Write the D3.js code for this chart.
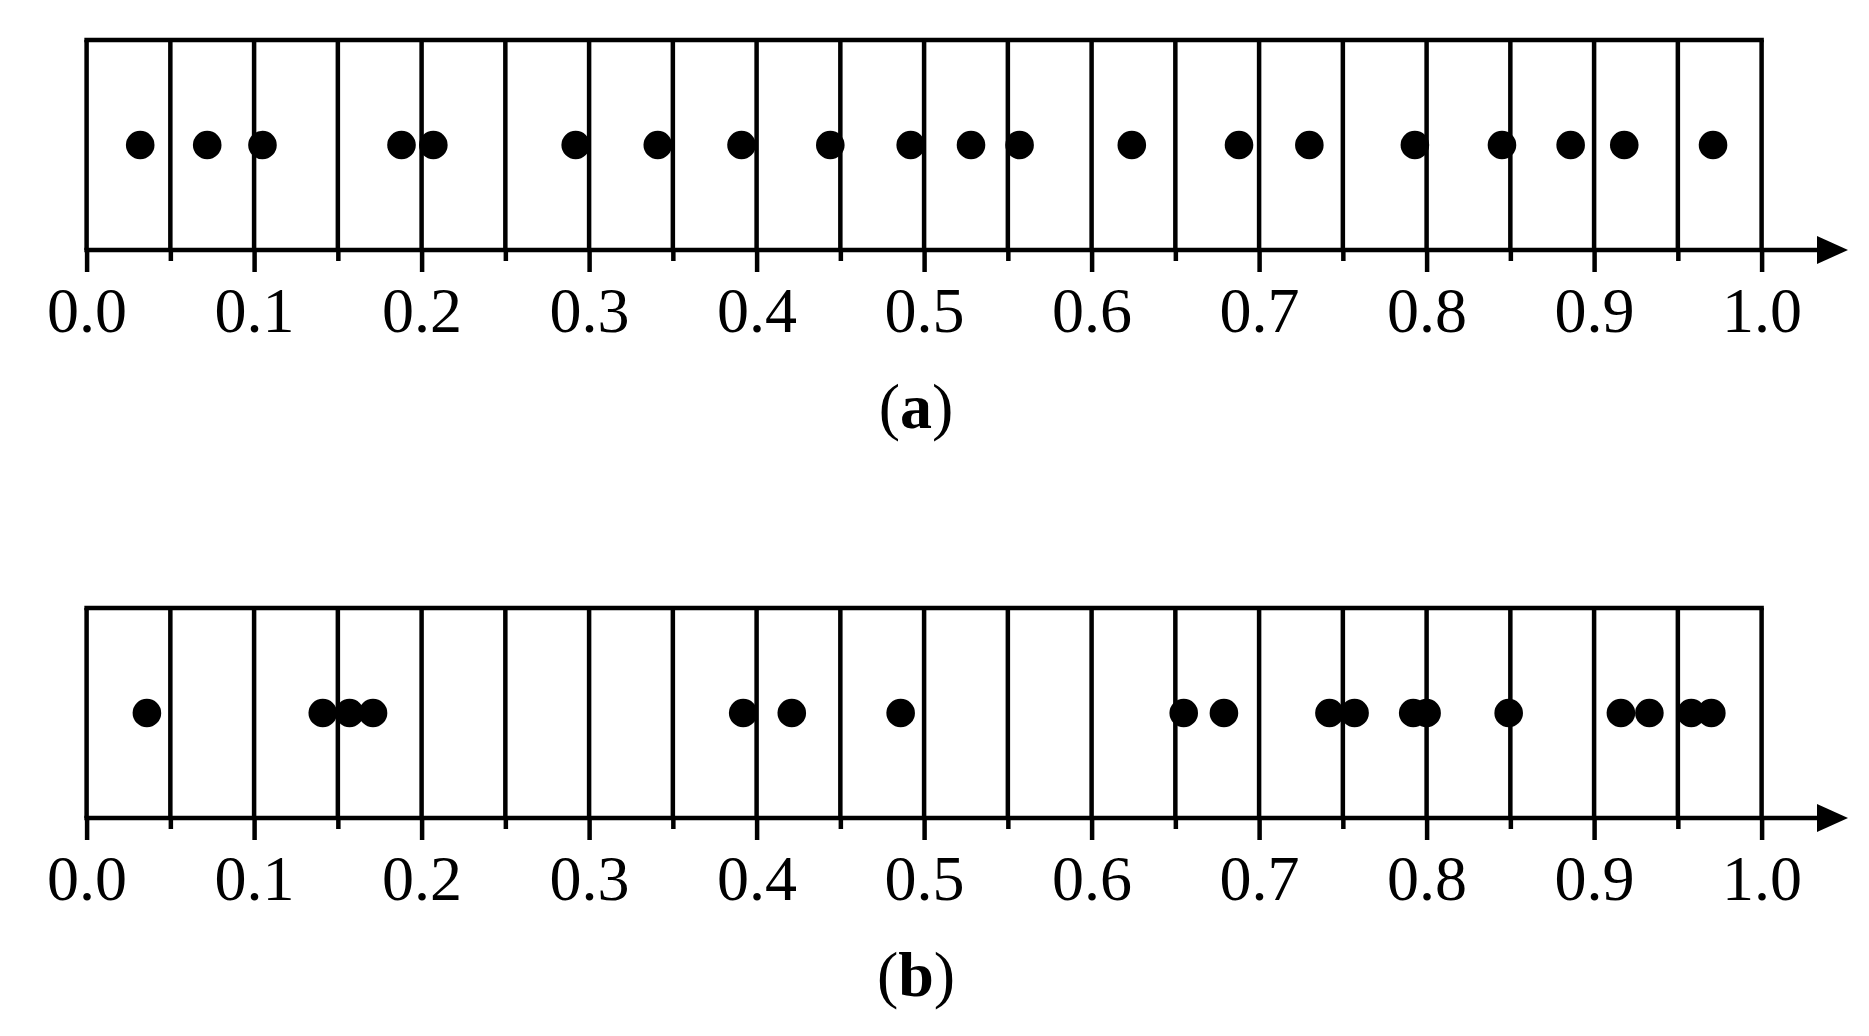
<!DOCTYPE html>
<html>
<head>
<meta charset="utf-8">
<script src="https://cdn.jsdelivr.net/npm/d3@7"></script>
<style>
  body { margin: 0; background: #fff; }
  svg { display: block; }
</style>
</head>
<body>
<svg id="chart" width="1869" height="1036"></svg>
<script>
// sample points of the two panels
var pointsA = [0.032, 0.072, 0.105, 0.188, 0.207, 0.292, 0.341, 0.391, 0.444, 0.492,
               0.528, 0.557, 0.624, 0.688, 0.730, 0.793, 0.845, 0.886, 0.918, 0.971];
var pointsB = [0.036, 0.141, 0.157, 0.171, 0.392, 0.421, 0.486, 0.655, 0.679, 0.742,
               0.757, 0.792, 0.800, 0.849, 0.916, 0.933, 0.958, 0.970];
var majorTicks = [0, 0.1, 0.2, 0.3, 0.4, 0.5, 0.6, 0.7, 0.8, 0.9, 1.0];
var minorTicks = [0.05, 0.15, 0.25, 0.35, 0.45, 0.55, 0.65, 0.75, 0.85, 0.95];
var panelLabels = ["a", "b"];

var svg = d3.select("#chart");
var sw = 4.5;

var x = d3.scaleLinear().domain([0, 1]).range([86.6, 1761.6]);
var gridLines = majorTicks.concat(minorTicks);

// panel geometry: top of frame, axis line
var panels = [
  {pts: pointsA, top: 40, axis: 250, label: panelLabels[0]},
  {pts: pointsB, top: 608, axis: 818, label: panelLabels[1]}
];

panels.forEach(function(p){
  var g = svg.append("g").attr("transform", "translate(0," + p.top + ")");
  var h = p.axis - p.top;

  // top border
  g.append("line")
    .attr("x1", x(0) - sw/2).attr("x2", x(1) + sw/2)
    .attr("y1", 0).attr("y2", 0)
    .attr("stroke", "#000").attr("stroke-width", sw);

  // vertical cell lines
  g.selectAll(".cell")
    .data(gridLines)
    .enter()
    .append("line")
      .attr("class", "cell")
      .attr("x1", function(d){ return x(d); })
      .attr("x2", function(d){ return x(d); })
      .attr("y1", 0).attr("y2", h)
      .attr("stroke", "#000").attr("stroke-width", sw);

  // axis line with arrow
  var ga = g.append("g").attr("transform", "translate(0," + h + ")");
  ga.append("line")
    .attr("x1", x(0) - sw/2).attr("x2", 1822)
    .attr("y1", 0).attr("y2", 0)
    .attr("stroke", "#000").attr("stroke-width", sw);
  ga.append("path")
    .attr("d", "M1817,-14 L1848,0 L1817,14 Z")
    .attr("fill", "#000");

  // minor ticks
  var minorAxis = d3.axisBottom(x).tickValues(minorTicks).tickSize(11).tickFormat("");
  ga.append("g").call(minorAxis)
    .call(function(s){ s.select(".domain").remove(); })
    .selectAll("line").attr("stroke-width", sw);

  // major ticks + labels
  var majorAxis = d3.axisBottom(x).tickValues(majorTicks).tickSize(22).tickFormat(d3.format(".1f"));
  var gm = ga.append("g").call(majorAxis);
  gm.select(".domain").remove();
  gm.selectAll("line").attr("stroke-width", sw);
  gm.selectAll("text")
    .attr("y", 82).attr("dy", null)
    .attr("font-family", "'Liberation Serif', 'Times New Roman', serif")
    .attr("font-size", 64)
    .attr("fill", "#000");
  gm.attr("font-family", null).attr("font-size", null);

  // points
  g.selectAll(".pt")
    .data(p.pts)
    .enter()
    .append("circle")
      .attr("class", "pt")
      .attr("cx", function(d){ return x(d); })
      .attr("cy", h / 2)
      .attr("r", 14.3)
      .attr("fill", "#000");

  // caption
  var cap = g.append("text")
    .attr("x", 916)
    .attr("y", h + 178)
    .attr("text-anchor", "middle")
    .attr("font-family", "'Liberation Serif', 'Times New Roman', serif")
    .attr("font-size", 64)
    .attr("fill", "#000");
  cap.append("tspan").text("(");
  cap.append("tspan").attr("font-weight", "bold").text(p.label);
  cap.append("tspan").text(")");
});
</script>
</body>
</html>
